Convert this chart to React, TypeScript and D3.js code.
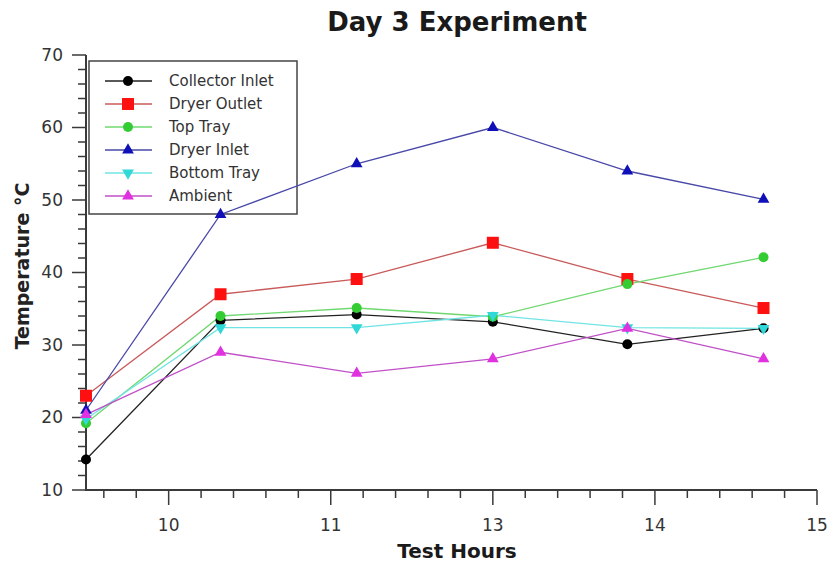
import React from "react";
import * as d3 from "d3";

// Sampling times (hour axis units) and temperatures (°C) per probe
const hours = [9.49, 10.32, 11.16, 12.0, 12.83, 13.67];

const collectorInlet = [14.2, 33.4, 34.2, 33.2, 30.1, 32.3];
const dryerOutlet = [23.0, 37.0, 39.1, 44.1, 39.1, 35.1];
const topTray = [19.2, 34.0, 35.1, 33.9, 38.4, 42.1];
const dryerInlet = [21.0, 48.0, 55.0, 60.0, 54.0, 50.1];
const bottomTray = [19.8, 32.4, 32.4, 34.1, 32.4, 32.3];
const ambient = [20.4, 29.0, 26.1, 28.1, 32.3, 28.1];

const seriesNames = ["Collector Inlet", "Dryer Outlet", "Top Tray", "Dryer Inlet", "Bottom Tray", "Ambient"];

const xTicks = [10, 11, 12, 13, 14];
const xTickLabels = ["10", "11", "13", "14", "15"];
const yTicks = [10, 20, 30, 40, 50, 60, 70];

type Marker = "circle" | "square" | "up" | "down";

const styles: { line: string; fill: string; marker: Marker }[] = [
  { line: "#222222", fill: "#000000", marker: "circle" },
  { line: "#c85a5a", fill: "#ff1010", marker: "square" },
  { line: "#70d870", fill: "#33cc33", marker: "circle" },
  { line: "#4848a8", fill: "#1010b8", marker: "up" },
  { line: "#70e4e4", fill: "#30d8d8", marker: "down" },
  { line: "#c050c8", fill: "#e030e0", marker: "up" },
];

const allSeries = [collectorInlet, dryerOutlet, topTray, dryerInlet, bottomTray, ambient];

const FONT = "'DejaVu Sans', Verdana, sans-serif";

function MarkerShape({ kind, x, y, fill }: { kind: Marker; x: number; y: number; fill: string }) {
  if (kind === "circle") return <circle cx={x} cy={y} r={5} fill={fill} />;
  if (kind === "square") return <rect x={x - 6} y={y - 6} width={12} height={12} fill={fill} />;
  const sym = d3.symbol().type(d3.symbolTriangle).size(60)();
  return (
    <path d={sym || ""} fill={fill} transform={`translate(${x},${y}) rotate(${kind === "down" ? 180 : 0})`} />
  );
}

export default function App() {
  const W = 830;
  const H = 565;
  const left = 86;
  const right = 817;
  const top = 55;
  const bottom = 490;

  const x = d3.scaleLinear().domain([9.49, 14]).range([left, right]);
  const y = d3.scaleLinear().domain([10, 70]).range([bottom, top]);

  const line = d3
    .line<number>()
    .x((_, i) => x(hours[i]))
    .y((v) => y(v));

  const xMinor: number[] = [];
  for (let v = 9.6; v < 14.001; v += 0.2) {
    const r = Math.round(v * 10) / 10;
    if (Math.abs(r - Math.round(r)) > 0.01 && r > 9.49) xMinor.push(r);
  }
  const yMinor: number[] = [];
  for (let v = 12; v < 70; v += 2) if (v % 10 !== 0) yMinor.push(v);

  const axisColor = "#3a3a3a";
  const textColor = "#333333";

  return (
    <svg
      width={W}
      height={H}
      style={{ position: "absolute", left: 0, top: 0, background: "#fff" }}
      fontFamily={FONT}
    >
      <text x={457} y={31} textAnchor="middle" fontSize={26} fontWeight="bold" fill="#1a1a1a">
        Day 3 Experiment
      </text>

      {/* y axis */}
      <line x1={left} x2={left} y1={top} y2={bottom} stroke={axisColor} strokeWidth={2} />
      {yTicks.map((t) => (
        <g key={"yt" + t}>
          <line x1={left - 14} x2={left} y1={y(t)} y2={y(t)} stroke={axisColor} strokeWidth={1.5} />
          <text x={63} y={y(t)} dy="0.35em" textAnchor="end" fontSize={17} fill={textColor}>
            {t}
          </text>
        </g>
      ))}
      {yMinor.map((t) => (
        <line key={"ym" + t} x1={left - 8} x2={left} y1={y(t)} y2={y(t)} stroke={axisColor} strokeWidth={1.5} />
      ))}
      <text
        transform={`translate(29,${266}) rotate(-90)`}
        textAnchor="middle"
        fontSize={19}
        fontWeight="bold"
        fill="#222"
      >
        Temperature °C
      </text>

      {/* x axis */}
      <line x1={left - 1} x2={right} y1={bottom} y2={bottom} stroke={axisColor} strokeWidth={2} />
      {xTicks.map((t, i) => (
        <g key={"xt" + t}>
          <line x1={x(t)} x2={x(t)} y1={bottom} y2={bottom + 15} stroke={axisColor} strokeWidth={1.5} />
          <text x={x(t)} y={525} dy="0.35em" textAnchor="middle" fontSize={17} fill={textColor}>
            {xTickLabels[i]}
          </text>
        </g>
      ))}
      {xMinor.map((t) => (
        <line key={"xm" + t} x1={x(t)} x2={x(t)} y1={bottom} y2={bottom + 8} stroke={axisColor} strokeWidth={1.5} />
      ))}
      <text x={457} y={558} textAnchor="middle" fontSize={20} fontWeight="bold" fill="#1a1a1a">
        Test Hours
      </text>

      {/* legend */}
      <rect x={89} y={61} width={208} height={153} fill="#fff" stroke="#444" strokeWidth={1.5} />
      {seriesNames.map((name, k) => {
        const ly = 81 + k * 23;
        return (
          <g key={"lg" + k}>
            <line x1={105} x2={152} y1={ly} y2={ly} stroke={styles[k].line} strokeWidth={1.3} />
            <MarkerShape kind={styles[k].marker} x={128} y={ly} fill={styles[k].fill} />
            <text x={169} y={ly} dy="0.35em" fontSize={15} fill={textColor}>
              {name}
            </text>
          </g>
        );
      })}

      {/* series */}
      {allSeries.map((s, k) => (
        <path key={"l" + k} d={line(s) || ""} fill="none" stroke={styles[k].line} strokeWidth={1.3} />
      ))}
      {allSeries.map((s, k) => (
        <g key={"m" + k}>
          {s.map((v, i) => (
            <MarkerShape key={i} kind={styles[k].marker} x={x(hours[i])} y={y(v)} fill={styles[k].fill} />
          ))}
        </g>
      ))}
    </svg>
  );
}
